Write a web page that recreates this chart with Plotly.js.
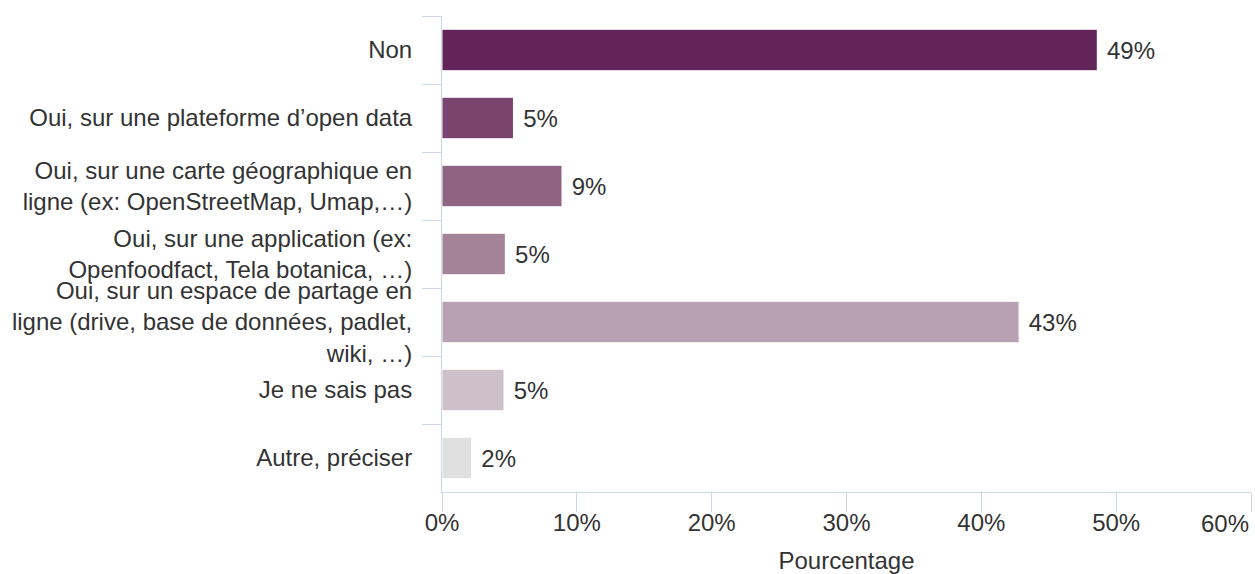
<!DOCTYPE html>
<html>
<head>
<meta charset="utf-8">
<script src="https://cdn.plot.ly/plotly-3.0.1.min.js"></script>
<style>html,body{margin:0;padding:0;background:#fff;}#chart{width:1255px;height:574px;}</style>
</head>
<body>
<div id="chart"></div>
<script>
const categories = [
  "Non",
  "Oui, sur une plateforme d’open data",
  "Oui, sur une carte géographique en<br>ligne (ex: OpenStreetMap, Umap,…)",
  "Oui, sur une application (ex:<br>Openfoodfact, Tela botanica, …)",
  "Oui, sur un espace de partage en<br>ligne (drive, base de données, padlet,<br>wiki, …)",
  "Je ne sais pas",
  "Autre, préciser"
];
const values = [48.6, 5.3, 8.9, 4.7, 42.8, 4.6, 2.2];
const colors = ["#632459", "#7b446f", "#8f6483", "#a48399", "#b8a1b2", "#cdc0c9", "#e0e0e0"];
const xTickVals = [0, 10, 20, 30, 40, 50, 60];
const xTickText = xTickVals.map(v => v + "%");
const xTitle = "Pourcentage";

const font = "Liberation Sans, Arial, sans-serif";
const fsize = 24;
const axisColor = "#ccd6eb";
const lastTick = xTickVals[xTickVals.length - 1];
const trace = {
  type: "bar",
  orientation: "h",
  y: categories,
  x: values,
  text: values.map(v => " " + Math.round(v) + "%"),
  textposition: "outside",
  cliponaxis: false,
  textfont: {family: font, size: fsize, color: "#333333"},
  marker: {color: colors, line: {color: "#ffffff", width: 1}},
  hoverinfo: "none"
};
const layout = {
  width: 1255, height: 574,
  margin: {l: 442, r: 4, t: 16, b: 82},
  paper_bgcolor: "#ffffff", plot_bgcolor: "#ffffff",
  bargap: 0.39,
  showlegend: false,
  font: {family: font, size: fsize, color: "#333333"},
  xaxis: {
    range: [0, lastTick],
    tickmode: "array", tickvals: xTickVals,
    ticktext: xTickText.map((t, i) => i === xTickVals.length - 1 ? "" : t),
    showgrid: false, zeroline: false,
    showline: true, linecolor: axisColor, linewidth: 1,
    ticks: "outside", ticklen: 19, tickcolor: axisColor, tickwidth: 1,
    tickfont: {family: font, size: fsize, color: "#333333"},
    ticklabelstandoff: -10,
    title: {text: xTitle, font: {family: font, size: fsize, color: "#333333"}, standoff: 18},
    fixedrange: true
  },
  yaxis: {
    type: "category", autorange: "reversed",
    showgrid: false, zeroline: false,
    showline: true, linecolor: axisColor, linewidth: 1,
    ticks: "outside", tickson: "boundaries", ticklen: 19, tickcolor: axisColor, tickwidth: 1,
    tickfont: {family: font, size: fsize, color: "#333333"},
    ticklabelstandoff: 24,
    fixedrange: true
  },
  annotations: [{
    x: lastTick, xref: "x", y: 0, yref: "paper",
    xanchor: "right", yanchor: "top", yshift: -16,
    text: xTickText[xTickText.length - 1], showarrow: false,
    font: {family: font, size: fsize, color: "#333333"}
  }]
};
Plotly.newPlot("chart", [trace], layout, {displayModeBar: false, staticPlot: true});
</script>
</body>
</html>
